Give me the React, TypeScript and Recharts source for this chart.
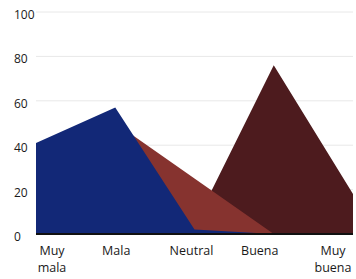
import React from 'react';
import { AreaChart, Area, XAxis, YAxis, CartesianGrid } from 'recharts';

const categories = ['Muy mala', 'Mala', 'Neutral', 'Buena', 'Muy buena'];
const seriesBlue = [41, 57, 2, 0, 0];
const seriesRed = [35, 50, 25, 0, 0];
const seriesBrown = [0, 0, 4, 76, 18];
const yTicks = [0, 20, 40, 60, 80, 100];

const data = categories.map((name, i) => ({
  name,
  blue: seriesBlue[i],
  red: seriesRed[i],
  brown: seriesBrown[i],
}));

const FONT = '"Open Sans", sans-serif';
// small nudges so labels sit where the original puts them
const labelShift = [16, 1, -3, -14, -20];

function XTick(props: any) {
  const { x, y, payload, index } = props;
  const words = String(payload.value).split(' ');
  const cx = x + labelShift[index];
  return (
    <text
      x={cx}
      y={y + 13}
      textAnchor="middle"
      fontFamily={FONT}
      fontSize={12.5}
      fill="#1a1a1a"
    >
      {words.map((w, k) => (
        <tspan key={k} x={cx} dy={k === 0 ? 0 : 17}>
          {w}
        </tspan>
      ))}
    </text>
  );
}

function YTick(props: any) {
  const { y, payload } = props;
  return (
    <text x={14} y={y + 7} textAnchor="start" fontFamily={FONT} fontSize={12} fill="#1a1a1a">
      {payload.value}
    </text>
  );
}

export default function App() {
  return (
    <div style={{ position: 'absolute', left: 0, top: 0, background: '#fff' }}>
      <AreaChart
        width={356}
        height={279}
        data={data}
        margin={{ top: 12, right: 3, bottom: 0, left: 0 }}
      >
        <CartesianGrid horizontal vertical={false} stroke="#e8e8e8" />
        <XAxis
          dataKey="name"
          height={45}
          interval={0}
          tickLine={false}
          axisLine={{ stroke: '#111', strokeWidth: 2 }}
          tick={<XTick />}
        />
        <YAxis
          domain={[0, 100]}
          ticks={yTicks}
          width={36}
          axisLine={false}
          tickLine={false}
          tick={<YTick />}
        />
        <Area
          type="linear"
          dataKey="brown"
          fill="#4d1b1e"
          fillOpacity={1}
          stroke="none"
          isAnimationActive={false}
        />
        <Area
          type="linear"
          dataKey="red"
          fill="#86332f"
          fillOpacity={1}
          stroke="none"
          isAnimationActive={false}
        />
        <Area
          type="linear"
          dataKey="blue"
          fill="#122877"
          fillOpacity={1}
          stroke="none"
          isAnimationActive={false}
        />
      </AreaChart>
    </div>
  );
}
